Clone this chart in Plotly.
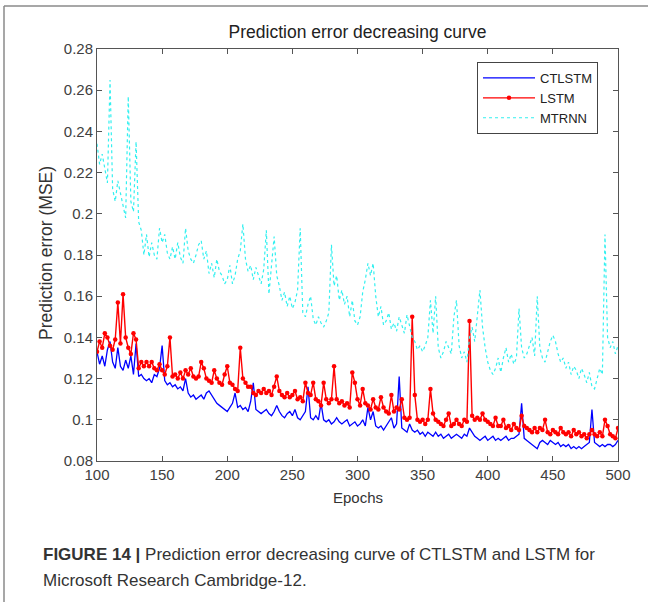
import plotly.graph_objects as go

# ---------------- data ----------------
epochs = list(range(100, 501, 2))

ctlstm = [
    0.133, 0.127, 0.131, 0.126, 0.134,
    0.138, 0.128, 0.125, 0.135, 0.126,
    0.124, 0.129, 0.125, 0.131, 0.122,
    0.137, 0.121, 0.122, 0.120, 0.119,
    0.120, 0.118, 0.122, 0.121, 0.125,
    0.136, 0.119, 0.117, 0.118, 0.116,
    0.117, 0.115, 0.116, 0.114, 0.120,
    0.113, 0.111, 0.112, 0.110, 0.111,
    0.112, 0.110, 0.113, 0.114, 0.112,
    0.110, 0.108, 0.107, 0.106, 0.105,
    0.104, 0.106, 0.108, 0.113, 0.106,
    0.107, 0.105, 0.106, 0.104, 0.109,
    0.118, 0.105, 0.104, 0.103, 0.104,
    0.105, 0.103, 0.102, 0.104, 0.107,
    0.104, 0.102, 0.101, 0.103, 0.104,
    0.102, 0.105, 0.101, 0.100, 0.102,
    0.104, 0.116, 0.101, 0.100, 0.102,
    0.100, 0.108, 0.100, 0.099, 0.100,
    0.098, 0.099, 0.101, 0.099, 0.098,
    0.099, 0.100, 0.097, 0.098, 0.099,
    0.097, 0.098, 0.100, 0.097, 0.106,
    0.100, 0.104, 0.097, 0.096, 0.097,
    0.095, 0.097, 0.099, 0.101, 0.096,
    0.098, 0.121, 0.096, 0.095, 0.094,
    0.098, 0.095, 0.094, 0.095, 0.093,
    0.094, 0.092, 0.094, 0.093, 0.092,
    0.094, 0.092, 0.093, 0.091, 0.092,
    0.093, 0.091, 0.092, 0.093, 0.092,
    0.091, 0.093, 0.092, 0.096, 0.094,
    0.092, 0.091, 0.090, 0.091, 0.092,
    0.090, 0.091, 0.092, 0.090, 0.091,
    0.090, 0.091, 0.092, 0.090, 0.091,
    0.091, 0.092, 0.093, 0.108, 0.091,
    0.090, 0.089, 0.088, 0.087, 0.086,
    0.089, 0.090, 0.089, 0.088, 0.090,
    0.089, 0.088, 0.089, 0.087, 0.088,
    0.087, 0.088, 0.086, 0.087, 0.086,
    0.087, 0.086, 0.087, 0.088, 0.089,
    0.105, 0.089, 0.088, 0.087, 0.088,
    0.087, 0.088, 0.088, 0.087, 0.088,
    0.090,
]

lstm = [
    0.133, 0.138, 0.135, 0.142, 0.140,
    0.136, 0.134, 0.139, 0.157, 0.137,
    0.161, 0.140, 0.135, 0.132, 0.142,
    0.139, 0.125, 0.128, 0.126, 0.128,
    0.126, 0.128, 0.125, 0.124, 0.127,
    0.124, 0.122, 0.126, 0.140, 0.121,
    0.122, 0.120, 0.123, 0.120, 0.124,
    0.122, 0.125, 0.121, 0.120, 0.121,
    0.128, 0.125, 0.120, 0.119, 0.118,
    0.124, 0.120, 0.118, 0.117, 0.122,
    0.126, 0.118, 0.117, 0.115, 0.114,
    0.135, 0.120, 0.118, 0.116, 0.116,
    0.113, 0.112, 0.114, 0.113, 0.115,
    0.113, 0.114, 0.112, 0.116, 0.121,
    0.114, 0.112, 0.111, 0.113, 0.111,
    0.112, 0.114, 0.110, 0.111, 0.109,
    0.118, 0.113, 0.112, 0.118, 0.110,
    0.109, 0.107, 0.118, 0.110, 0.108,
    0.110, 0.126, 0.110, 0.108, 0.109,
    0.107, 0.108, 0.106, 0.123, 0.118,
    0.110, 0.107, 0.115, 0.108, 0.107,
    0.105, 0.110, 0.106, 0.105, 0.111,
    0.106, 0.104, 0.103, 0.112, 0.104,
    0.106, 0.105, 0.110, 0.101, 0.100,
    0.101, 0.150, 0.112, 0.100, 0.099,
    0.100, 0.098, 0.100, 0.115, 0.103,
    0.100, 0.099, 0.098, 0.097, 0.100,
    0.103, 0.097, 0.098, 0.100, 0.098,
    0.097, 0.100, 0.099, 0.148, 0.102,
    0.100, 0.101, 0.100, 0.103, 0.100,
    0.099, 0.098, 0.097, 0.101, 0.097,
    0.097, 0.100, 0.096, 0.097, 0.095,
    0.098, 0.096, 0.095, 0.102, 0.097,
    0.096, 0.095, 0.094, 0.096, 0.094,
    0.096, 0.095, 0.100, 0.094, 0.093,
    0.095, 0.094, 0.093, 0.096, 0.094,
    0.093, 0.094, 0.092, 0.095, 0.093,
    0.094, 0.092, 0.093, 0.091, 0.093,
    0.095, 0.093, 0.092, 0.094, 0.092,
    0.100, 0.097, 0.093, 0.092, 0.091,
    0.096,
]

mtrnn = [
    0.234, 0.224, 0.229, 0.221, 0.215,
    0.265, 0.212, 0.206, 0.216, 0.210,
    0.203, 0.198, 0.257, 0.206, 0.201,
    0.235, 0.196, 0.192, 0.180, 0.190,
    0.179, 0.186, 0.180, 0.178, 0.193,
    0.186, 0.190, 0.181, 0.178, 0.184,
    0.178, 0.186, 0.179, 0.176, 0.193,
    0.182, 0.178, 0.176, 0.180, 0.185,
    0.187, 0.178, 0.182, 0.171, 0.176,
    0.169, 0.178, 0.172, 0.170, 0.166,
    0.168, 0.175, 0.166, 0.170, 0.178,
    0.182, 0.195, 0.178, 0.172, 0.175,
    0.168, 0.174, 0.170, 0.166, 0.173,
    0.192, 0.161, 0.175, 0.189, 0.170,
    0.165, 0.158, 0.162, 0.155, 0.160,
    0.154, 0.157, 0.163, 0.193, 0.152,
    0.150, 0.156, 0.160, 0.149, 0.146,
    0.150, 0.147, 0.145, 0.148, 0.152,
    0.185, 0.165, 0.170, 0.158, 0.163,
    0.156, 0.160, 0.150, 0.158, 0.148,
    0.146, 0.150, 0.162, 0.168, 0.176,
    0.170, 0.176, 0.160, 0.150, 0.155,
    0.146, 0.148, 0.152, 0.144, 0.147,
    0.143, 0.150, 0.146, 0.142, 0.151,
    0.145, 0.140, 0.138, 0.134, 0.136,
    0.133, 0.136, 0.140, 0.158, 0.142,
    0.160, 0.135, 0.130, 0.133, 0.138,
    0.135, 0.132, 0.150, 0.158, 0.136,
    0.130, 0.133, 0.128, 0.140, 0.145,
    0.138, 0.150, 0.163, 0.145, 0.135,
    0.128, 0.124, 0.122, 0.125, 0.130,
    0.123, 0.130, 0.135, 0.128, 0.132,
    0.127, 0.130, 0.154, 0.135, 0.130,
    0.132, 0.136, 0.140, 0.131, 0.160,
    0.135, 0.130, 0.128, 0.133, 0.138,
    0.141, 0.138, 0.132, 0.128, 0.130,
    0.125, 0.128, 0.122, 0.126, 0.124,
    0.120, 0.125, 0.122, 0.118, 0.123,
    0.116, 0.115, 0.120, 0.125, 0.122,
    0.190, 0.140, 0.135, 0.138, 0.132,
    0.136,
]

x_ticks = [100, 150, 200, 250, 300, 350, 400, 450, 500]
x_tick_labels = ["100", "150", "200", "250", "300", "350", "400", "450", "500"]
y_ticks = [0.08, 0.10, 0.12, 0.14, 0.16, 0.18, 0.20, 0.22, 0.24, 0.26, 0.28]
y_tick_labels = ["0.08", "0.1", "0.12", "0.14", "0.16", "0.18", "0.2", "0.22", "0.24", "0.26", "0.28"]

title_text = "Prediction error decreasing curve"
x_label = "Epochs"
y_label = "Prediction error (MSE)"
caption_1 = "<b>FIGURE 14 |</b> Prediction error decreasing curve of CTLSTM and LSTM for"
caption_2 = "Microsoft Research Cambridge-12."

# ---------------- figure ----------------
W, H = 652, 602
L, R, T, B = 97, 34, 49, 141
pw, ph = W - L - R, H - T - B

def px(xp):
    return (xp - L) / pw

def py(yp):
    return (H - B - yp) / ph

FONT = "Liberation Sans, Arial, Helvetica, sans-serif"

fig = go.Figure()
fig.add_trace(go.Scatter(x=epochs, y=ctlstm, name="CTLSTM", mode="lines",
                         line=dict(color="#0000FF", width=1.3)))
fig.add_trace(go.Scatter(x=epochs, y=lstm, name="LSTM", mode="lines+markers",
                         line=dict(color="#FF0000", width=1.4),
                         marker=dict(color="#FF0000", size=4.5, symbol="circle")))
fig.add_trace(go.Scatter(x=epochs, y=mtrnn, name="MTRNN", mode="lines",
                         line=dict(color="#33F0F0", width=1.2, dash="dot")))

axis_common = dict(showline=True, linecolor="#555555", linewidth=1, mirror="ticks",
                   ticks="inside", ticklen=5, tickcolor="#555555", showgrid=False,
                   zeroline=False, tickfont=dict(family=FONT, size=15, color="#404040"))

fig.update_xaxes(range=[100, 500], tickvals=x_ticks, ticktext=x_tick_labels, **axis_common)
fig.update_yaxes(range=[0.08, 0.28], tickvals=y_ticks, ticktext=y_tick_labels, **axis_common)

fig.update_layout(
    width=W, height=H,
    margin=dict(l=L, r=R, t=T, b=B),
    paper_bgcolor="white", plot_bgcolor="white",
    showlegend=True,
    legend=dict(x=px(477), y=py(62), xanchor="left", yanchor="top",
                bgcolor="white", bordercolor="#444444", borderwidth=1,
                font=dict(family=FONT, size=13, color="#222222"),
                itemwidth=52, tracegroupgap=0),
    title=dict(text=title_text, x=px(357.5), xref="paper", xanchor="center",
               y=1 - 32 / H, yref="container", yanchor="middle",
               font=dict(family=FONT, size=17.5, color="#222222")),
    annotations=[
        dict(text=x_label, x=px(357.5), y=py(497), xref="paper", yref="paper",
             showarrow=False, xanchor="center", yanchor="middle",
             font=dict(family=FONT, size=15, color="#333333")),
        dict(text=y_label, x=px(46), y=py(253), xref="paper", yref="paper",
             showarrow=False, xanchor="center", yanchor="middle", textangle=-90,
             font=dict(family=FONT, size=17.5, color="#333333")),
        dict(text=caption_1, x=px(41), y=py(554), xref="paper", yref="paper",
             showarrow=False, xanchor="left", yanchor="middle",
             font=dict(family=FONT, size=17, color="#333333")),
        dict(text=caption_2, x=px(41), y=py(580), xref="paper", yref="paper",
             showarrow=False, xanchor="left", yanchor="middle",
             font=dict(family=FONT, size=17, color="#333333")),
    ],
    shapes=[
        dict(type="line", xref="paper", yref="paper", x0=px(4), x1=px(648), y0=py(6), y1=py(6),
             line=dict(color="#8a8a8a", width=1.5)),
        dict(type="line", xref="paper", yref="paper", x0=px(4), x1=px(4), y0=py(6), y1=py(602),
             line=dict(color="#8a8a8a", width=1.5)),
    ],
)

fig.write_html("out.html")
